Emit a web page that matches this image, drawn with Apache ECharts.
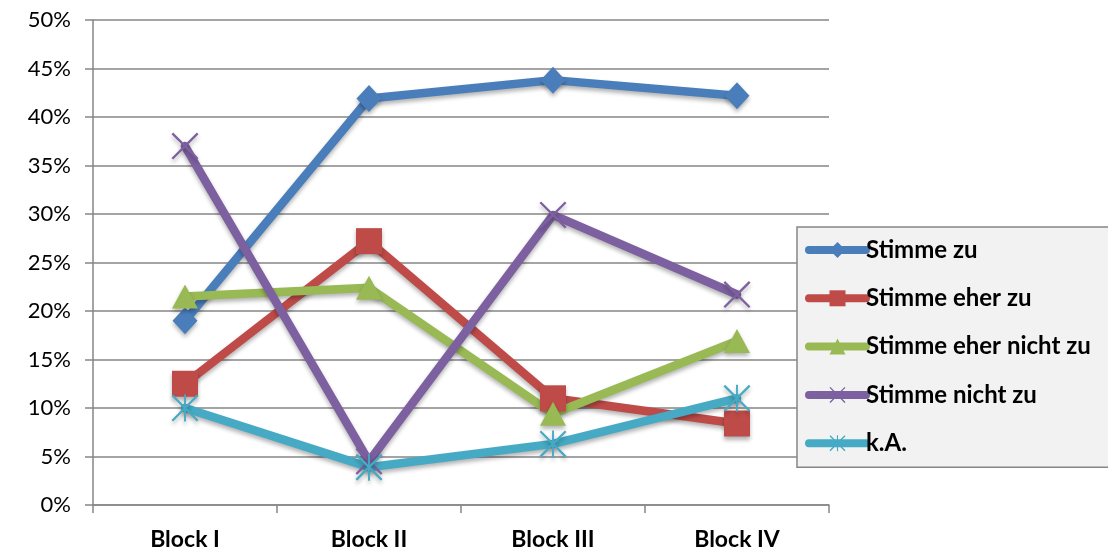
<!DOCTYPE html>
<html>
<head>
<meta charset="utf-8">
<script src="https://cdn.jsdelivr.net/npm/echarts@6/dist/echarts.min.js"></script>
<style>
html, body { margin: 0; padding: 0; background: #fff; }
#chart { width: 1108px; height: 552px; }
</style>
</head>
<body>
<div id="chart"></div>
<script>
// Kategorien und Werte (in %)
var categories = ['Block I', 'Block II', 'Block III', 'Block IV'];
var stimmeZu = [19.0, 41.9, 43.8, 42.2];
var eherZu = [12.5, 27.2, 11.0, 8.4];
var eherNicht = [21.5, 22.4, 9.4, 16.9];
var nichtZu = [37.0, 4.5, 29.9, 21.7];
var keineAngabe = [10.0, 3.9, 6.3, 11.0];
var names = ['Stimme zu', 'Stimme eher zu', 'Stimme eher nicht zu', 'Stimme nicht zu', 'k.A.'];

var fontName = 'Lato';
// X und Stern als Pfad-Symbole
var crossPath = 'path://M0,1.2 L1.2,0 L20,18.8 L18.8,20 Z M18.8,0 L20,1.2 L1.2,20 L0,18.8 Z';
var starPath = crossPath.replace('path://', 'path://M9.3,0 L10.7,0 L10.7,20 L9.3,20 Z ');

function makeSeries(name, data, color, symbol, size) {
    return {
        name: name,
        type: 'line',
        data: data,
        symbol: symbol,
        symbolSize: size,
        showAllSymbol: true,
        lineStyle: {
            color: color,
            width: 8.5,
            cap: 'round',
            join: 'round',
            shadowColor: 'rgba(0,0,0,0.3)',
            shadowBlur: 4,
            shadowOffsetY: 3
        },
        itemStyle: {
            color: color,
            opacity: 1,
            shadowColor: 'rgba(0,0,0,0.3)',
            shadowBlur: 4,
            shadowOffsetY: 3
        },
        emphasis: { disabled: true }
    };
}

var myChart = echarts.init(document.getElementById('chart'));
var option = {
    animation: false,
    textStyle: { fontFamily: fontName },
    grid: { left: 93, right: 279, top: 20, bottom: 47 },
    legend: {
        orient: 'vertical',
        left: 797,
        top: 227,
        padding: [11, 60, 12, 8],
        itemWidth: 57,
        itemHeight: 20,
        itemGap: 24.3,
        backgroundColor: '#f2f2f2',
        borderColor: '#868686',
        borderWidth: 1.5,
        data: names,
        lineStyle: { width: 8, cap: 'round', shadowBlur: 0 },
        itemStyle: { shadowBlur: 0 },
        textStyle: { fontFamily: fontName, fontSize: 24, fontWeight: 'bold', color: '#000', padding: [0, 0, 0, -5] }
    },
    xAxis: {
        type: 'category',
        data: categories,
        axisLine: { lineStyle: { color: '#868686', width: 1.5 } },
        axisTick: { show: true, length: 8, lineStyle: { color: '#868686', width: 1.5 } },
        axisLabel: { margin: 23, fontFamily: fontName, fontSize: 23, fontWeight: 'bold', color: '#000' }
    },
    yAxis: {
        type: 'value',
        min: 0,
        max: 50,
        interval: 5,
        axisLine: { show: true, lineStyle: { color: '#868686', width: 1.5 } },
        axisTick: { show: true, length: 8, lineStyle: { color: '#868686', width: 1.5 } },
        splitLine: { lineStyle: { color: '#868686', width: 1.5 } },
        axisLabel: { margin: 22, fontFamily: fontName, fontSize: 22, color: '#000', formatter: '{value}%' }
    },
    series: [
        makeSeries(names[0], stimmeZu, '#4a7ebb', 'diamond', [25, 27]),
        makeSeries(names[1], eherZu, '#be4b48', 'rect', [26, 26]),
        makeSeries(names[2], eherNicht, '#98b954', 'triangle', [26, 24]),
        makeSeries(names[3], nichtZu, '#7d60a0', crossPath, [27, 27]),
        makeSeries(names[4], keineAngabe, '#46aac5', starPath, [27, 27])
    ]
};
myChart.setOption(option);
</script>
</body>
</html>
